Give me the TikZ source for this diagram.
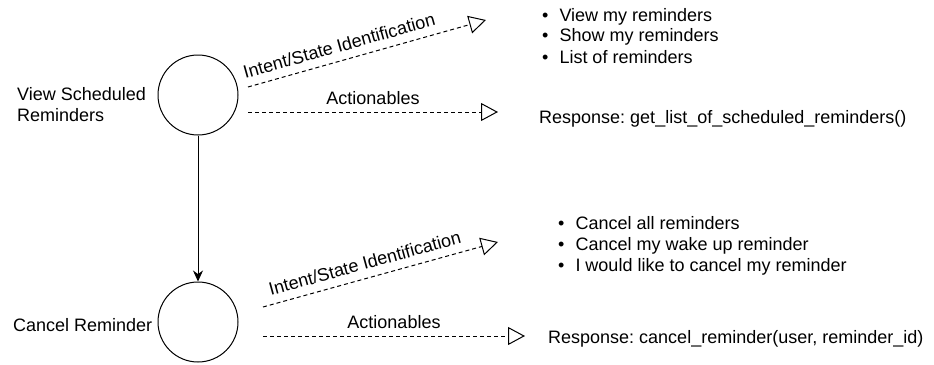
\documentclass[tikz,border=0pt]{standalone}
\usepackage{fontspec}
\setmainfont{Liberation Sans}
\usetikzlibrary{arrows.meta}
\frenchspacing

\tikzset{
  state/.style={draw, circle, line width=1pt, minimum size=80pt, inner sep=0pt},
  txt/.style={inner sep=0pt, align=left},
  move/.style={line width=1pt, -{Stealth[length=11pt,width=10pt]}},
  intent/.style={line width=1pt, dash pattern=on 4pt off 3pt, -{Triangle[open,length=17pt,width=18pt]}}
}
\newcommand{\itm}{\textbullet\hspace{11pt}}

\begin{document}
\begin{tikzpicture}[x=1pt,y=-1pt,font=\fontsize{18}{21}\selectfont]
\useasboundingbox (0,0) rectangle (934,364);

%draws the two states
\node[state] (view) at (198,95) {};
\node[state] (cancel) at (198,322) {};

%state names (base is the last line)
\node[txt, anchor=base west] (viewname) at (17,121) {View Scheduled\\Reminders};
\node[txt, anchor=base west] (cancelname) at (13,331) {Cancel Reminder};

%move from one state to the other
\draw[move] (view) -- (cancel);

%ends of the dashed arrows
\coordinate (vi0) at (248,87);  \coordinate (vi1) at (486,20);
\coordinate (va0) at (248,112); \coordinate (va1) at (498,112);
\coordinate (ci0) at (263,307); \coordinate (ci1) at (498,242);
\coordinate (ca0) at (263,336); \coordinate (ca1) at (525,336);

%dashed arrows with labels
\draw[intent] (vi0) -- node[pos=0.4, sloped, above, inner sep=8pt] (vilabel) {Intent/State Identification} (vi1);
\draw[intent] (va0) -- node[midway, above, inner sep=7pt] (valabel) {Actionables} (va1);
\draw[intent] (ci0) -- node[pos=0.45, sloped, above, inner sep=8pt] (cilabel) {Intent/State Identification} (ci1);
\draw[intent] (ca0) -- node[midway, above, inner sep=7pt] (calabel) {Actionables} (ca1);

%samples and responses
\node[txt, anchor=base west] (viewsamples) at (542,63) {\itm View my reminders\\\itm Show my reminders\\\itm List of reminders};
\node[txt, anchor=base west] (viewresponse) at (539,123) {Response: get\_list\_of\_scheduled\_reminders()};
\node[txt, anchor=base west] (cancelsamples) at (558,271) {\itm Cancel all reminders\\\itm Cancel my wake up reminder\\\itm I would like to cancel my reminder};
\node[txt, anchor=base west] (cancelresponse) at (548,343) {Response: cancel\_reminder(user, reminder\_id)};

\end{tikzpicture}
\end{document}
